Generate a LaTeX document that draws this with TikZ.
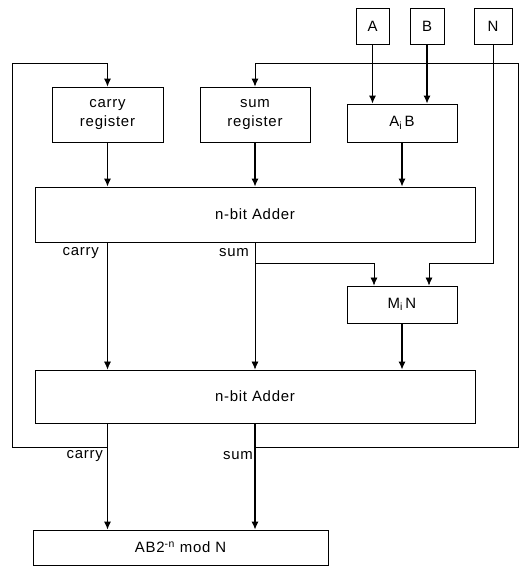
\documentclass[tikz,border=0pt]{standalone}
\usepackage{fontspec}
\setmainfont[LetterSpace=5]{Liberation Sans}
\usetikzlibrary{arrows.meta}
\begin{document}
\begin{tikzpicture}[x=1bp,y=-1bp,
  box/.style={draw,line width=0.8bp,inner sep=0pt,align=center,font=\fontsize{15}{19}\selectfont},
  arr/.style={line width=1.2bp,-{Latex[length=8bp,width=7bp]}},
  thinarr/.style={line width=0.7bp,-{Latex[length=8bp,width=7bp]}},
  lbl/.style={font=\fontsize{15}{17}\selectfont,inner sep=1bp}]
\useasboundingbox (0,0) rectangle (519,566);
\fill[white] (0,0) rectangle (519,566);
% boxes
\node[box,minimum width=33bp,minimum height=36bp] (nA) at (372.5,26) {A};
\node[box,minimum width=34bp,minimum height=36bp] (nB) at (427,26) {B};
\node[box,minimum width=38bp,minimum height=36bp] (nN) at (493,26) {N};
\node[box,minimum width=111bp,minimum height=55bp] (creg) at (107.5,114.5) {carry\\register};
\node[box,minimum width=110bp,minimum height=55bp] (sreg) at (255,114.5) {sum\\register};
\node[box,minimum width=110bp,minimum height=38bp] (aib) at (402,123) {A\textsubscript{i}\,B};
\node[box,minimum width=440bp,minimum height=55bp] (add1) at (255,214.5) {n-bit Adder};
\node[box,minimum width=110bp,minimum height=37bp] (min) at (402,304.5) {M\textsubscript{i}\,N};
\node[box,minimum width=440bp,minimum height=53bp] (add2) at (255,396.5) {n-bit Adder};
\node[box,minimum width=295bp,minimum height=35bp] (res) at (180.5,547.5) {AB2\textsuperscript{-n} mod N};
% helper coordinates
\coordinate (lb) at (12,447);
\coordinate (lt) at (12,63);
\coordinate (rb) at (518,447);
\coordinate (rt) at (518,63);
\coordinate (br) at (255,263);
\coordinate (nturn) at (493,263);
\path (min.north) ++(-28,0) coordinate (minL);
\path (min.north) ++(27,0) coordinate (minR);
% inputs
\draw[arr] (nA.south) -- (nA.south |- aib.north);
\draw[arr] (nB.south) -- (nB.south |- aib.north);
\draw[arr] (creg.south) -- (creg.south |- add1.north);
\draw[arr] (sreg.south) -- (sreg.south |- add1.north);
\draw[arr] (aib.south) -- (aib.south |- add1.north);
% adder 1 outputs
\draw[thinarr] (add1.south -| creg.south) -- (add2.north -| creg.south);
\draw[thinarr] (add1.south) -- (add2.north);
\draw[thinarr] (br) -| (minL);
\draw[thinarr] (nN.south) -- (nturn) -| (minR);
\draw[arr] (min.south) -- (min.south |- add2.north);
% adder 2 outputs
\draw[arr] (add2.south -| creg.south) -- (res.north -| creg.south);
\draw[arr] (add2.south) -- (res.north -| add2.south);
% feedback loops
\draw[thinarr,line width=0.9bp] (add2.south -| creg.south) |- (lb) -- (lt) -| (creg.north);
\draw[thinarr,line width=0.9bp] (add2.south) |- (rb) -- (rt) -| (sreg.north);
% labels
\node[lbl,anchor=east] (lc1) at (100,253) {carry};
\node[lbl,anchor=east] (ls1) at (250,253) {sum};
\node[lbl,anchor=east] (lc2) at (104,456) {carry};
\node[lbl,anchor=east] (ls2) at (254,456) {sum};
\end{tikzpicture}
\end{document}
